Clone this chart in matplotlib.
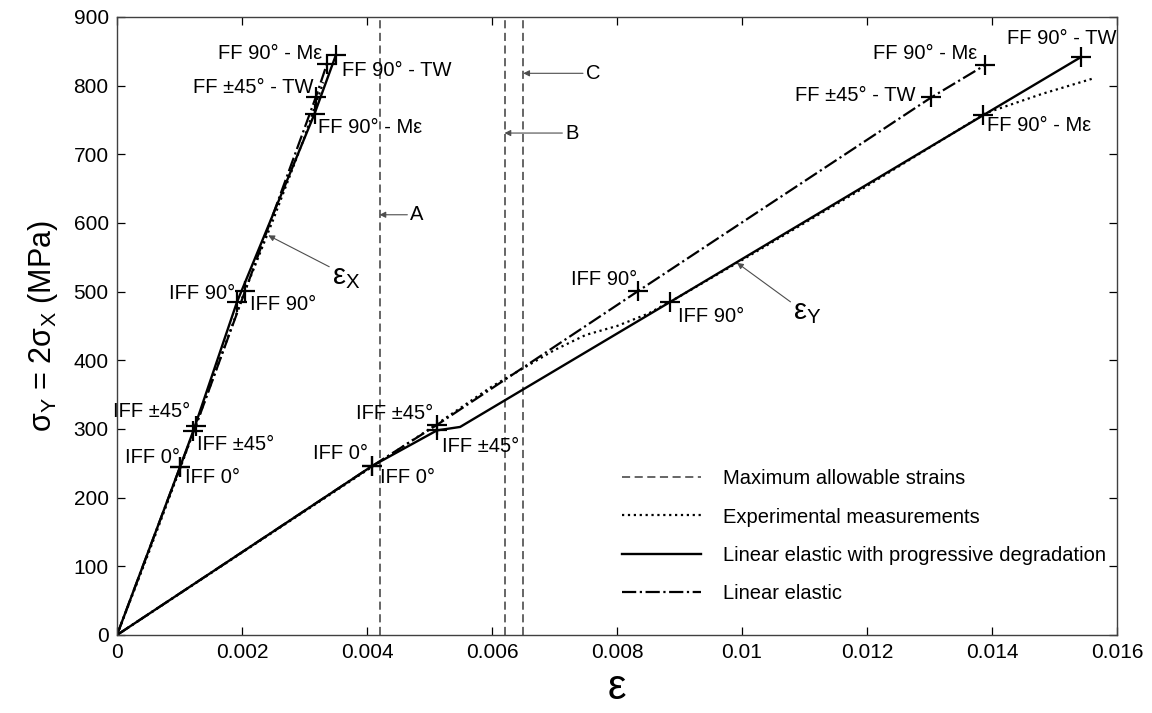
import matplotlib
matplotlib.use('Agg')
import matplotlib.pyplot as plt

plt.rcParams['font.family'] = ['Liberation Sans', 'DejaVu Sans']
plt.rcParams['mathtext.fontset'] = 'custom'
plt.rcParams['mathtext.rm'] = 'Liberation Sans'
plt.rcParams['mathtext.it'] = 'Liberation Sans'

# strain limits (vertical dashed lines A, B, C)
limit_names = ['A', 'B', 'C']
limit_eps = [0.0042, 0.0062, 0.0065]

# eps_X branch
ex_le = [0, 0.00101, 0.00126, 0.00205, 0.00318, 0.00336]
sx_le = [0, 245, 304, 501, 783, 832]
ex_pd = [0, 0.00101, 0.00122, 0.00192, 0.00316, 0.00350]
sx_pd = [0, 245, 297, 485, 759, 844]
ex_exp = [0, 0.0005, 0.0010, 0.0015, 0.0020, 0.0025, 0.0030, 0.0033]
sx_exp = [0, 118, 240, 365, 490, 605, 725, 805]

# eps_Y branch
ey_le = [0, 0.00408, 0.00512, 0.00834, 0.01303, 0.01389]
sy_le = [0, 246, 306, 501, 783, 830]
ey_pd = [0, 0.00408, 0.00512, 0.00549, 0.00885, 0.01386, 0.01543]
sy_pd = [0, 246, 298, 303, 485, 757, 842]
ey_exp = [0, 0.002, 0.004, 0.005, 0.006, 0.007, 0.0075, 0.008, 0.0085, 0.009,
          0.010, 0.012, 0.0139, 0.0148, 0.0156]
sy_exp = [0, 120, 240, 300, 362, 415, 437, 450, 468, 493,
          546, 654, 760, 788, 810]

# failure markers (indices into the curves above)
mk_le = [1, 2, 3, 4, 5]
mk_pd = [1, 2, 3, 4, 5]
mk_ley = [1, 2, 3, 4, 5]
mk_pdy = [1, 2, 4, 5, 6]

# failure labels: text, eps, sigma, ha
labels = [
    ('FF 90° - M\u03b5', 0.00328, 847, 'right'),
    ('FF 90° - TW', 0.00360, 822, 'left'),
    ('FF ±45° - TW', 0.00314, 798, 'right'),
    ('FF 90° - M\u03b5', 0.00322, 739, 'left'),
    ('IFF 90°', 0.00189, 498, 'right'),
    ('IFF 90°', 0.00213, 482, 'left'),
    ('IFF ±45°', 0.00117, 325, 'right'),
    ('IFF ±45°', 0.00128, 277, 'left'),
    ('IFF 0°', 0.00101, 259, 'right'),
    ('IFF 0°', 0.00109, 230, 'left'),
    ('IFF 0°', 0.00402, 265, 'right'),
    ('IFF 0°', 0.00421, 230, 'left'),
    ('IFF ±45°', 0.00506, 323, 'right'),
    ('IFF ±45°', 0.00520, 274, 'left'),
    ('IFF 90°', 0.00832, 517, 'right'),
    ('IFF 90°', 0.00898, 464, 'left'),
    ('FF 90° - M\u03b5', 0.01376, 847, 'right'),
    ('FF ±45° - TW', 0.01277, 786, 'right'),
    ('FF 90° - TW', 0.01424, 869, 'left'),
    ('FF 90° - M\u03b5', 0.01392, 742, 'left'),
]

fig = plt.figure(figsize=(11.52, 7.13), dpi=100)
ax = fig.add_axes([117/1152, 78/713, 1000/1152, 618/713])

for e in limit_eps:
    ax.axvline(e, color='0.35', lw=1.3, dashes=(4.5, 2.5))
ax.plot([], [], color='0.35', lw=1.3, dashes=(4.5, 2.5), label='Maximum allowable strains')

ax.plot(ex_exp, sx_exp, color='k', lw=1.6, ls=':', label='Experimental measurements')
ax.plot(ey_exp, sy_exp, color='k', lw=1.6, ls=':')
ax.plot(ex_pd, sx_pd, color='k', lw=1.7, label='Linear elastic with progressive degradation')
ax.plot(ey_pd, sy_pd, color='k', lw=1.7)
ax.plot(ex_le, sx_le, color='k', lw=1.6, ls='-.', label='Linear elastic')
ax.plot(ey_le, sy_le, color='k', lw=1.6, ls='-.')

pk = dict(ls='none', marker='+', ms=15, mew=1.6, color='k')
ax.plot([ex_le[i] for i in mk_le], [sx_le[i] for i in mk_le], **pk)
ax.plot([ex_pd[i] for i in mk_pd], [sx_pd[i] for i in mk_pd], **pk)
ax.plot([ey_le[i] for i in mk_ley], [sy_le[i] for i in mk_ley], **pk)
ax.plot([ey_pd[i] for i in mk_pdy], [sy_pd[i] for i in mk_pdy], **pk)

for t, x, y, ha in labels:
    ax.text(x, y, t, ha=ha, va='center', fontsize=14.5)

arr = dict(arrowstyle='-|>', color='0.3', lw=0.8, mutation_scale=9, shrinkA=0, shrinkB=0)
ax.annotate('A', xy=(limit_eps[0], 612), xytext=(0.00469, 612), va='center', fontsize=14.5, arrowprops=arr)
ax.annotate('B', xy=(limit_eps[1], 731), xytext=(0.00717, 731), va='center', fontsize=14.5, arrowprops=arr)
ax.annotate('C', xy=(limit_eps[2], 818), xytext=(0.00750, 818), va='center', fontsize=14.5, arrowprops=arr)
ax.annotate('\u03b5$_\\mathrm{X}$', xy=(0.00242, 582), xytext=(0.00344, 522), va='center',
            fontsize=21, arrowprops=dict(arr, relpos=(0, 0.8)))
ax.annotate('\u03b5$_\\mathrm{Y}$', xy=(0.00992, 542), xytext=(0.01082, 470), va='center',
            fontsize=21, arrowprops=dict(arr, relpos=(0, 0.8)))

ax.set_xlim(0, 0.016)
ax.set_ylim(0, 900)
ax.set_xticks([0, 0.002, 0.004, 0.006, 0.008, 0.01, 0.012, 0.014, 0.016])
ax.set_xticklabels(['0', '0.002', '0.004', '0.006', '0.008', '0.01', '0.012', '0.014', '0.016'])
ax.set_yticks(range(0, 901, 100))
ax.tick_params(direction='in', length=6, width=0.9, top=True, right=True, labelsize=15, pad=6)
for s in ax.spines.values():
    s.set_linewidth(1.0)
    s.set_color('0.25')

ax.set_xlabel('\u03b5', fontsize=30, labelpad=4)
ax.set_ylabel('\u03c3$_\\mathrm{Y}$ = 2\u03c3$_\\mathrm{X}$ (MPa)', fontsize=22, labelpad=10)

ax.legend(loc='upper left', bbox_to_anchor=(0.505, 0.268), frameon=False, fontsize=14.5,
          handlelength=3.9, handletextpad=1.1, labelspacing=0.95, borderpad=0, borderaxespad=0)

fig.savefig('out.png', dpi=100)
